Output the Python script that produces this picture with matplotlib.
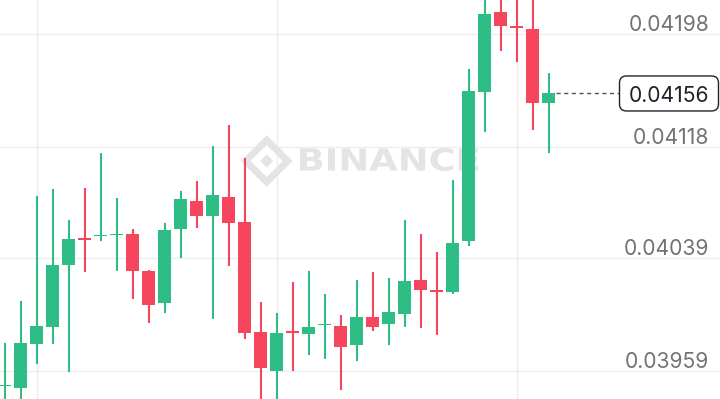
import matplotlib
matplotlib.use("Agg")
import matplotlib.pyplot as plt
import numpy as np
from matplotlib.textpath import TextPath
from matplotlib.font_manager import FontProperties
from matplotlib.patches import PathPatch, Polygon, FancyBboxPatch
from matplotlib import transforms

# ---- data ----
opens = [0.039484, 0.039472, 0.039782, 0.039902, 0.040340, 0.040531, 0.040545, 0.040552, 0.040560, 0.040298,
         0.040071, 0.040600, 0.040795, 0.040688, 0.040827, 0.040648, 0.039867, 0.039592, 0.039874, 0.039853,
         0.039913, 0.039907, 0.039772, 0.039975, 0.039922, 0.039995, 0.040236, 0.040165, 0.040149, 0.040513,
         0.041570, 0.042136, 0.042039, 0.042015, 0.041490]
highs = [0.039791, 0.040087, 0.040830, 0.040880, 0.040662, 0.040889, 0.041137, 0.040816, 0.040598, 0.040305,
         0.040638, 0.040868, 0.040939, 0.041187, 0.041338, 0.041100, 0.040078, 0.040000, 0.040220, 0.040300,
         0.040139, 0.039988, 0.040238, 0.040291, 0.040248, 0.040662, 0.040560, 0.040437, 0.040946, 0.041736,
         0.042300, 0.042300, 0.042300, 0.042300, 0.041707]
lows = [0.039320, 0.039320, 0.039642, 0.039782, 0.039581, 0.040291, 0.040513, 0.040300, 0.040101, 0.039929,
        0.040000, 0.040390, 0.040603, 0.039959, 0.040333, 0.039819, 0.039320, 0.039330, 0.039592, 0.039701,
        0.039673, 0.039453, 0.039663, 0.039872, 0.039772, 0.039900, 0.039893, 0.039846, 0.040139, 0.040479,
        0.041289, 0.041859, 0.041781, 0.041299, 0.041140]
closes = [0.039494, 0.039791, 0.039909, 0.040340, 0.040529, 0.040520, 0.040555, 0.040563, 0.040298, 0.040061,
          0.040589, 0.040808, 0.040688, 0.040837, 0.040641, 0.039862, 0.039609, 0.039858, 0.039860, 0.039900,
          0.039924, 0.039760, 0.039975, 0.039900, 0.040007, 0.040227, 0.040163, 0.040154, 0.040499, 0.041578,
          0.042124, 0.042041, 0.042028, 0.041490, 0.04156]
price_ticks = [0.04198, 0.04118, 0.04039, 0.03959]
price_labels = ["0.04198", "0.04118", "0.04039", "0.03959"]
time_grid_idx = [2, 17, 32]
last_price = 0.04156
last_label = "0.04156"

GREEN = "#2EBD85"
RED = "#F6465D"
GRID = "#EEEEEE"
LABEL = "#737373"
FONT = ["Inter", "DejaVu Sans"]
FS = 15.2

W, H = 720, 399
fig = plt.figure(figsize=(W / 100, H / 100), dpi=100)
fig.patch.set_facecolor("white")
ax = fig.add_axes([0, 0, 1, 1])
ax.set_axis_off()

n = len(opens)
x = np.arange(n)
ax.set_xlim(-0.294, 44.71)
ax.set_ylim(0.0393912, 0.0422235)

# grid
for t in price_ticks:
    ax.axhline(t, color=GRID, lw=1.0, zorder=0)
for i in time_grid_idx:
    ax.axvline(i, color=GRID, lw=1.0, zorder=0)

# watermark (BINANCE text + logo), drawn in pixel coordinates
fp = FontProperties(family="DejaVu Sans", weight="bold")
tp = TextPath((0, 0), "BINANCE", size=1, prop=fp)
ext = tp.get_extents()
tw, th = 178, 23
tr = transforms.Affine2D().translate(-ext.x0, -ext.y0).scale(tw / ext.width, th / ext.height).translate(300, H - 171)
WM = "#E4E4E4"
ax.add_patch(PathPatch(tp, transform=tr, facecolor=WM, edgecolor="none", zorder=1))

cx, cy, R = 266.7, H - 161, 21
ident = transforms.IdentityTransform()
def diamond(x0, y0, r):
    return [(x0, y0 + r), (x0 + r, y0), (x0, y0 - r), (x0 - r, y0)]
ax.add_patch(Polygon(diamond(cx, cy, R), closed=True, fill=False, edgecolor=WM,
                     lw=5.0, transform=ident, zorder=1))
ax.add_patch(Polygon(diamond(cx, cy, 6.5), closed=True, facecolor=WM, edgecolor="none",
                     transform=ident, zorder=1))
for dx, dy in [(-R, 0), (R, 0), (0, R), (0, -R)]:
    ax.add_patch(Polygon(diamond(cx + dx * 0.62, cy + dy * 0.62, 2.2), closed=True, facecolor="white",
                         edgecolor="none", transform=ident, zorder=1))

# candles
opens_a = np.array(opens); closes_a = np.array(closes)
up = closes_a >= opens_a
colors = np.where(up, GREEN, RED)
ax.vlines(x, lows, highs, colors=colors, lw=1.5, zorder=2)
body_h = closes_a - opens_a
ax.bar(x, body_h, bottom=opens_a, width=0.82, color=colors, edgecolor="none", zorder=3)

# price labels on the right
for t, lab in zip(price_ticks, price_labels):
    ax.annotate(lab, xy=(1, t), xycoords=("axes fraction", "data"),
                xytext=(-11 * 0.72, 3.2 * 0.72), textcoords="offset points",
                ha="right", va="baseline", fontsize=FS, color=LABEL, family=FONT, zorder=5)

# last price dashed line and boxed label
ax.plot([x[-1] + 0.45, 38.4], [last_price, last_price], color="#555555", lw=1.0,
        dashes=(3, 2.5), zorder=4)
ax.annotate(last_label, xy=(1, last_price), xycoords=("axes fraction", "data"),
            xytext=(-11 * 0.72, -0.5 * 0.72), textcoords="offset points",
            ha="right", va="center_baseline", fontsize=FS, color="#1E2329", family=FONT, zorder=6)
ypix = ax.transData.transform((0, last_price))[1]
box = FancyBboxPatch((619.5, ypix - 17.5), 99, 35, boxstyle="round,pad=0,rounding_size=7",
                     transform=ident, facecolor="white", edgecolor="#1E2329", lw=1.0, zorder=5.5)
ax.add_patch(box)

fig.savefig("out.png", dpi=100, facecolor="white")
